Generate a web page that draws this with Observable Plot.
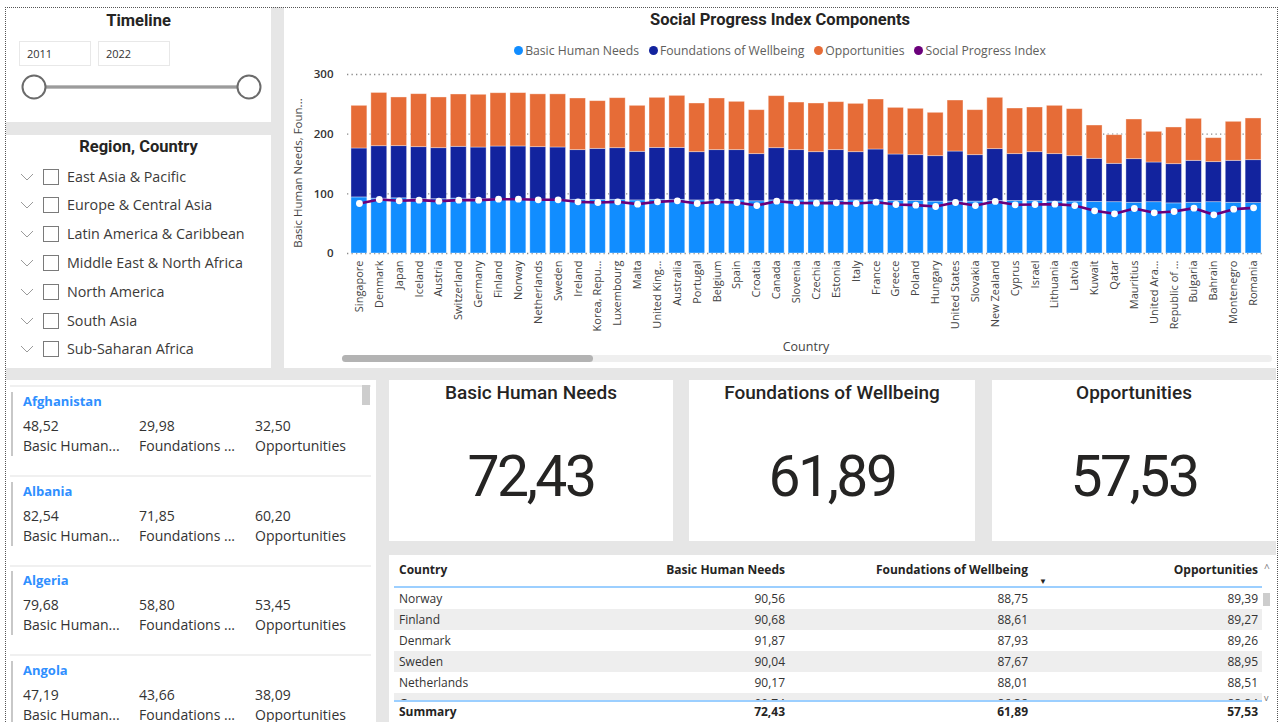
<!DOCTYPE html>
<html>
<head>
<meta charset="utf-8">
<script src="https://cdn.jsdelivr.net/npm/d3@7"></script>
<script src="https://cdn.jsdelivr.net/npm/@observablehq/plot@0.6"></script>
<style>
  html, body { margin: 0; padding: 0; background: #fff; }
  body { width: 1280px; height: 722px; overflow: hidden; position: relative; font-family: "Open Sans", "Noto Sans", sans-serif; color: #252423; }
  .abs { position: absolute; }
  .gray { position: absolute; left: 6px; top: 7px; width: 1270px; height: 716px; background: #e6e6e6; }
  .panel { position: absolute; background: #fff; overflow: hidden; }
  .frame { position: absolute; left: 5px; top: 7px; width: 1271px; height: 730px; border-left: 1.5px dotted #555; border-top: 1.5px dotted #555; border-right: 1.5px dotted #555; pointer-events: none; }
  .ptitle { position: absolute; left: 0; right: 0; text-align: center; font-family: Roboto, sans-serif; font-weight: 700; color: #252423; }
  .cardval { position: absolute; left: 0; right: 0; text-align: center; font-family: Roboto, sans-serif; font-weight: 400; font-size: 57px; letter-spacing: -2.5px; color: #252423; }
</style>
</head>
<body>
<div class="gray"></div>
<div id="root"></div>
<div class="frame"></div>
<script>
// ---------------- DATA ----------------
const countries = ["Singapore","Denmark","Japan","Iceland","Austria","Switzerland","Germany","Finland","Norway","Netherlands","Sweden","Ireland","Korea, Repu...","Luxembourg","Malta","United King...","Australia","Portugal","Belgium","Spain","Croatia","Canada","Slovenia","Czechia","Estonia","Italy","France","Greece","Poland","Hungary","United States","Slovakia","New Zealand","Cyprus","Israel","Lithuania","Latvia","Kuwait","Qatar","Mauritius","United Ara...","Republic of ...","Bulgaria","Bahrain","Montenegro","Romania"];
const basicHumanNeeds = [94.0,91.9,92.5,91.0,91.0,92.0,91.0,90.7,90.6,90.2,90.0,90.0,90.0,90.0,89.0,90.0,90.0,89.0,89.0,89.0,87.5,89.0,89.0,89.0,88.0,89.0,89.0,88.0,88.0,87.0,87.0,87.0,88.0,88.0,88.0,87.0,87.0,86.5,86.0,85.0,86.0,84.0,85.0,86.0,85.0,84.5];
const foundationsOfWellbeing = [82.0,87.9,87.4,87.2,85.5,86.8,86.6,88.6,88.8,88.0,87.7,83.2,85.4,86.5,81.4,87.0,87.0,80.8,84.2,84.2,79.0,87.5,84.2,80.8,85.2,80.8,85.3,77.9,76.8,76.1,83.9,77.8,86.9,78.5,81.8,79.5,76.1,72.2,64.3,73.1,66.5,65.7,70.3,67.1,70.3,71.9];
const opportunities = [71.5,89.3,81.6,88.8,85.0,87.7,88.4,89.3,89.4,88.5,89.0,86.6,79.9,83.8,77.1,83.9,87.2,81.6,86.6,81.0,73.7,87.2,79.8,81.6,80.4,81.0,83.8,78.2,77.7,72.7,85.5,75.4,86.0,76.5,74.9,81.0,78.8,55.8,48.0,66.5,51.4,61.5,70.4,40.2,65.4,69.9];
const socialProgressIndex = [83.8,90.5,88.3,89.4,87.7,89.4,89.4,91.0,91.0,90.0,90.0,86.6,85.5,86.6,82.7,86.6,88.3,83.8,86.6,85.5,80.4,87.7,84.9,84.4,84.9,83.8,86.0,82.1,81.0,78.8,85.5,80.4,87.2,81.6,82.1,82.7,80.4,71.5,66.5,75.4,68.2,70.4,76.0,64.8,74.3,76.5];
const seriesNames = ["Basic Human Needs","Foundations of Wellbeing","Opportunities"];
const seriesColors = ["#118DFF","#12239E","#E66C37"];
const spiName = "Social Progress Index";
const spiColor = "#6B007B";
const yTicks = [0,100,200,300];

const timelineYears = ["2011","2022"];
const regions = ["East Asia & Pacific","Europe & Central Asia","Latin America & Caribbean","Middle East & North Africa","North America","South Asia","Sub-Saharan Africa"];

const listCountries = ["Afghanistan","Albania","Algeria","Angola"];
const listBHN = [48.52,82.54,79.68,47.19];
const listFW = [29.98,71.85,58.80,43.66];
const listOpp = [32.50,60.20,53.45,38.09];
const listLabels = ["Basic Human...","Foundations ...","Opportunities"];

const cardTitles = ["Basic Human Needs","Foundations of Wellbeing","Opportunities"];
const cardValues = [72.43,61.89,57.53];

const tableHeaders = ["Country","Basic Human Needs","Foundations of Wellbeing","Opportunities"];
const tableCountries = ["Norway","Finland","Denmark","Sweden","Netherlands","Germany"];
const tableBHN = [90.56,90.68,91.87,90.04,90.17,90.74];
const tableFW = [88.75,88.61,87.93,87.67,88.01,86.38];
const tableOpp = [89.39,89.27,89.26,88.95,88.51,88.84];
const summaryValues = [72.43,61.89,57.53];

// ---------------- HELPERS ----------------
const fmt = v => v.toFixed(2).replace(".", ",");
const root = document.getElementById("root");
function el(tag, style, parent, html) {
  const e = document.createElement(tag);
  if (style) e.style.cssText = style;
  if (html !== undefined) e.innerHTML = html;
  (parent || root).appendChild(e);
  return e;
}
function panel(x, y, w, h) {
  const p = el("div", `left:${x}px;top:${y}px;width:${w}px;height:${h}px;`, root);
  p.classList.add("panel");
  return p;
}

// ---------------- TIMELINE ----------------
const pTime = panel(6, 7, 265, 115);
el("div", "top:4px;font-size:16.5px;", pTime, "Timeline").className = "ptitle";
timelineYears.forEach((y, i) => {
  el("div", `position:absolute;left:${13 + i*79}px;top:34px;width:72px;height:25px;border:1px solid #e8e8e8;box-sizing:border-box;font-size:11px;line-height:24px;padding-left:7px;color:#333;`, pTime, y);
});
pTime.insertAdjacentHTML("beforeend", `<svg class="abs" style="left:0;top:0" width="265" height="115">
  <line x1="28" y1="80" x2="243" y2="80" stroke="#7a7a7a" stroke-width="3"/>
  <line x1="28" y1="80" x2="243" y2="80" stroke="#bdbdbd" stroke-width="1"/>
  <circle cx="28" cy="80" r="11.5" fill="#fff" stroke="#6b6b6b" stroke-width="2"/>
  <circle cx="243" cy="80" r="11.5" fill="#fff" stroke="#6b6b6b" stroke-width="2"/>
</svg>`);

// ---------------- REGION SLICER ----------------
const pReg = panel(6, 135, 265, 233);
el("div", "top:2px;font-size:16.5px;", pReg, "Region, Country").className = "ptitle";
regions.forEach((r, i) => {
  const cy = 41.5 + i * 28.8;
  const row = el("div", `position:absolute;left:0;top:${cy - 12}px;height:24px;width:265px;`, pReg);
  row.innerHTML = `<svg class="abs" style="left:0;top:0" width="60" height="24">
     <polyline points="15,9 21,15 27,9" fill="none" stroke="#9a9a9a" stroke-width="1"/>
     <rect x="37.5" y="4.5" width="15" height="15" fill="#fff" stroke="#7a7a7a" stroke-width="1"/>
   </svg><div style="position:absolute;left:61px;top:0;line-height:24px;font-size:14.3px;color:#3b3a39;white-space:nowrap;">${r}</div>`;
});

// ---------------- CHART PANEL ----------------
const pChart = panel(284, 7, 992, 361);
el("div", "top:3px;font-size:16.5px;", pChart, "Social Progress Index Components").className = "ptitle";
// legend
const leg = el("div", "position:absolute;left:0;right:0;top:35px;text-align:center;font-size:12.2px;color:#605e5c;white-space:nowrap;", pChart);
[...seriesNames.map((s, i) => [s, seriesColors[i]]), [spiName, spiColor]].forEach(([s, c]) => {
  leg.insertAdjacentHTML("beforeend", `<span style="display:inline-flex;align-items:center;margin:0 5px;"><span style="display:inline-block;width:9px;height:9px;border-radius:50%;background:${c};margin-right:2px;"></span>${s}</span>`);
});
// y label
el("div", "position:absolute;left:13px;top:166px;transform:translate(-50%,-50%) rotate(-90deg);font-size:11.5px;color:#444;white-space:nowrap;", pChart, "Basic Human Needs, Foun...");
// x label
el("div", "position:absolute;left:63px;width:918px;top:331px;text-align:center;font-size:12.5px;color:#444;", pChart, "Country");
// scrollbar
el("div", "position:absolute;left:58px;top:348px;width:930px;height:7px;border-radius:4px;background:#efefef;", pChart);
el("div", "position:absolute;left:58px;top:348px;width:251px;height:7px;border-radius:4px;background:#b3b3b3;", pChart);

const long = countries.flatMap((c, i) => [
  {country: c, series: seriesNames[0], value: basicHumanNeeds[i]},
  {country: c, series: seriesNames[1], value: foundationsOfWellbeing[i]},
  {country: c, series: seriesNames[2], value: opportunities[i]}
]);
const spiRows = countries.map((c, i) => ({country: c, spi: socialProgressIndex[i]}));

const chart = Plot.plot({
  width: 992,
  height: 296,
  marginLeft: 63,
  marginRight: 11,
  marginTop: 10,
  marginBottom: 107,
  style: {fontFamily: "'Open Sans', sans-serif", fontSize: "11px", background: "transparent", color: "#444"},
  x: {domain: countries, padding: 0.2, label: null},
  y: {domain: [0, 300], label: null},
  color: {domain: seriesNames, range: seriesColors},
  marks: [
    Plot.ruleY(yTicks, {stroke: "#8a8a8a", strokeDasharray: "1.3,3.2", strokeWidth: 1.3}),
    Plot.barY(long, {x: "country", y: "value", fill: "series", stroke: "#fff", strokeOpacity: 0.45, strokeWidth: 0.8}),
    Plot.lineY(spiRows, {x: "country", y: "spi", stroke: spiColor, strokeWidth: 2.6}),
    Plot.dot(spiRows, {x: "country", y: "spi", r: 3.4, fill: "#fff", stroke: null}),
    Plot.axisY({ticks: yTicks, tickSize: 0, tickPadding: 14, label: null, fontWeight: 600, fontSize: 11.5, fill: "#333"}),
    Plot.axisX({tickRotate: -90, tickSize: 0, tickPadding: 7, label: null, fontSize: 11, fill: "#444"})
  ]
});
chart.style.position = "absolute";
chart.style.left = "0px";
chart.style.top = "57px";
pChart.appendChild(chart);

// ---------------- MULTI-ROW CARD LIST ----------------
const pList = panel(6, 380, 370, 342);
el("div", "position:absolute;left:4px;top:5px;width:361px;height:2px;background:#f0f0f0;", pList);
el("div", "position:absolute;left:356px;top:5px;width:8px;height:20px;background:#cdcdcd;", pList);
listCountries.forEach((c, i) => {
  const top = 12 + i * 89.5;
  el("div", `position:absolute;left:5px;top:${top}px;width:1.5px;height:64px;background:#c8c8c8;`, pList);
  el("div", `position:absolute;left:17px;top:${top}px;font-size:13px;font-weight:700;color:#2f8fff;`, pList, c);
  [listBHN[i], listFW[i], listOpp[i]].forEach((v, j) => {
    el("div", `position:absolute;left:${17 + j*116}px;top:${top + 24}px;font-size:14px;color:#333;`, pList, fmt(v));
    el("div", `position:absolute;left:${17 + j*116}px;top:${top + 44}px;font-size:14px;color:#333;white-space:nowrap;`, pList, listLabels[j]);
  });
  el("div", `position:absolute;left:4px;top:${top + 83}px;width:361px;height:2px;background:#f0f0f0;`, pList);
});

// ---------------- CARDS ----------------
const cardX = [389, 689, 992];
const cardW = [284, 286, 284];
cardTitles.forEach((t, i) => {
  const p = panel(cardX[i], 380, cardW[i], 161);
  el("div", "top:1px;font-size:19px;font-weight:500;", p, t).className = "ptitle";
  el("div", "top:63px;", p, fmt(cardValues[i])).className = "cardval";
});

// ---------------- TABLE ----------------
const pTab = panel(389, 555, 887, 167);
const colRight = [null, 396, 639, 869];
const hdr = el("div", "position:absolute;left:0;top:6px;width:887px;height:18px;font-size:12px;font-weight:700;color:#252423;", pTab);
tableHeaders.forEach((h, j) => {
  if (j === 0) el("div", "position:absolute;left:10px;top:0;white-space:nowrap;", hdr, h);
  else el("div", `position:absolute;right:${887 - colRight[j]}px;top:0;white-space:nowrap;`, hdr, h);
});
el("div", "position:absolute;left:650px;top:20px;font-size:8px;color:#252423;", pTab, "▼");
el("div", "position:absolute;left:5px;top:31px;width:868px;height:2px;background:#9ccfff;", pTab);
const body = el("div", "position:absolute;left:5px;top:33px;width:868px;height:112px;overflow:hidden;", pTab);
tableCountries.forEach((c, i) => {
  const r = el("div", `position:absolute;left:0;top:${i*21}px;width:868px;height:21px;background:${i % 2 ? "#eeeeee" : "#fff"};font-size:12px;color:#333;line-height:21px;overflow:hidden;`, body);
  el("div", "position:absolute;left:5px;top:0;", r, c);
  [tableBHN[i], tableFW[i], tableOpp[i]].forEach((v, j) => {
    el("div", `position:absolute;right:${868 - (colRight[j+1] - 5)}px;top:0;`, r, fmt(v));
  });
});
el("div", "position:absolute;left:5px;top:145px;width:868px;height:2px;background:#9ccfff;", pTab);
const sum = el("div", "position:absolute;left:0;top:148px;width:887px;height:18px;font-size:12px;font-weight:700;color:#252423;line-height:18px;", pTab);
el("div", "position:absolute;left:10px;top:0;", sum, "Summary");
summaryValues.forEach((v, j) => el("div", `position:absolute;right:${887 - colRight[j+1]}px;top:0;`, sum, fmt(v)));
// table scrollbar
el("div", "position:absolute;left:875px;top:6px;font-size:10px;color:#777;", pTab, "^");
el("div", "position:absolute;left:875px;top:136px;font-size:9px;color:#777;", pTab, "v");
el("div", "position:absolute;left:874px;top:38px;width:7px;height:13px;background:#cdcdcd;", pTab);
</script>
</body>
</html>
